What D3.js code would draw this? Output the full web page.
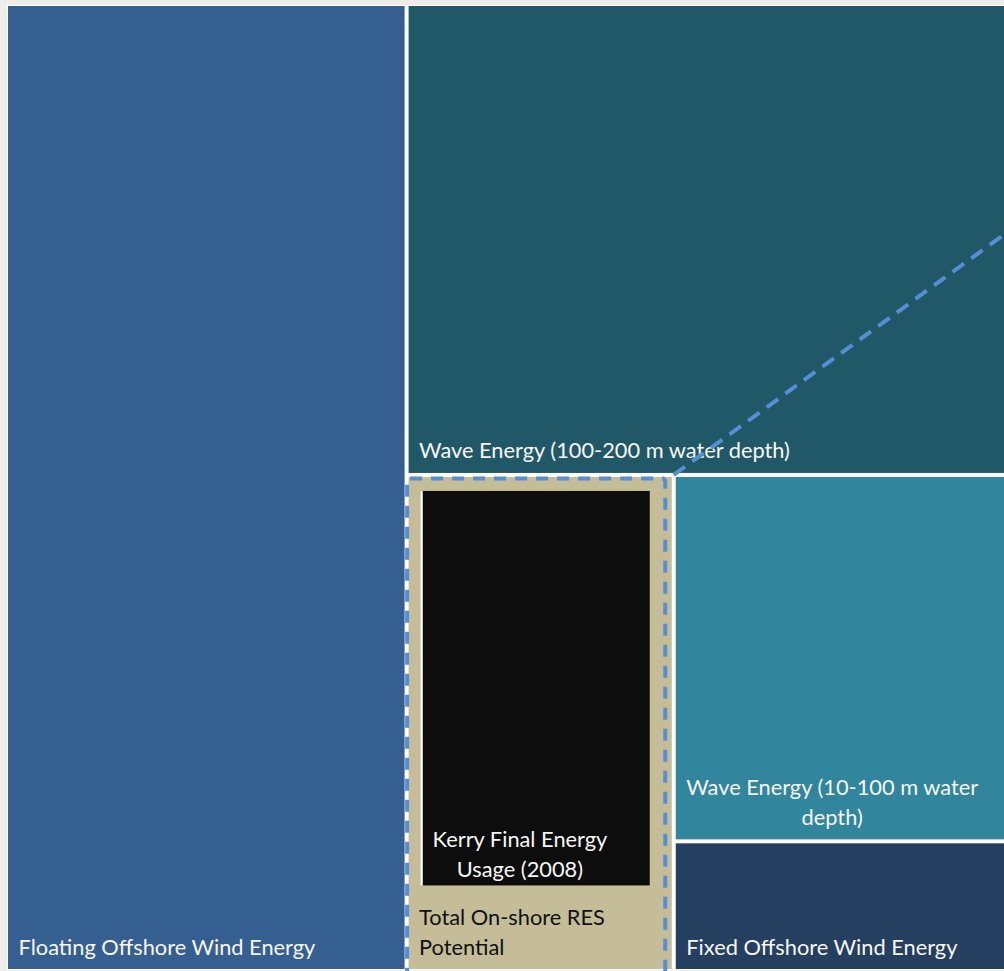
<!DOCTYPE html>
<html>
<head>
<meta charset="utf-8">
<script src="https://cdn.jsdelivr.net/npm/d3@7"></script>
<style>
  html, body { margin: 0; padding: 0; background: #efede9; }
  svg { display: block; }
</style>
</head>
<body>
<script>
// Renewable energy potential by source (same units throughout)
const categories = [
  "Floating Offshore Wind Energy",
  "Wave Energy (100-200 m water depth)",
  "Total On-shore RES Potential",
  "Wave Energy (10-100 m water depth)",
  "Fixed Offshore Wind Energy"
];
const potential = [39900, 29270, 13650, 12690, 4490];
const fillColors = ["#365f91", "#215868", "#c4bd97", "#31859c", "#243f60"];
const textColors = ["#f7f7f7", "#f7f7f7", "#111111", "#f7f7f7", "#f7f7f7"];
const labelLines = [
  ["Floating Offshore Wind Energy"],
  ["Wave Energy (100-200 m water depth)"],
  ["Total On-shore RES", "Potential"],
  ["Wave Energy (10-100 m water", "depth)"],
  ["Fixed Offshore Wind Energy"]
];
const labelAlign = ["start", "start", "start", "middle", "start"];

// County demand shown inside the on-shore block for comparison
const kerryName = "Kerry Final Energy Usage (2008)";
const kerryUsage = 9230;
const kerryLines = ["Kerry Final Energy", "Usage (2008)"];
const highlighted = "Total On-shore RES Potential";

const W = 1004, H = 971;
const origin = [8, 6];
const mapSize = [1000, 963];
const gap = 4;
const fontFamily = "Lato, 'Open Sans', sans-serif";
const fontSize = 21.8;
const lineHeight = 29.5;

const svg = d3.select("body").append("svg")
  .attr("width", W).attr("height", H);

svg.append("rect").attr("width", W).attr("height", H).attr("fill", "#efede9");
svg.append("rect")
  .attr("x", origin[0] - 1).attr("y", origin[1] - 1)
  .attr("width", mapSize[0] + 2).attr("height", mapSize[1] + 2)
  .attr("fill", "#ffffff");

const root = d3.hierarchy({
  name: "root",
  children: categories.map((c, i) => ({ name: c, value: potential[i], idx: i }))
}).sum(d => d.children ? 0 : d.value);

d3.treemap()
  .tile(d3.treemapBinary)
  .size(mapSize)
  .paddingInner(gap)
  (root);

const g = svg.append("g").attr("transform", `translate(${origin[0]},${origin[1]})`);

const leaves = root.leaves();
const cell = g.selectAll("g.cell").data(leaves).join("g").attr("class", "cell");

cell.append("rect")
  .attr("x", d => d.x0).attr("y", d => d.y0)
  .attr("width", d => d.x1 - d.x0).attr("height", d => d.y1 - d.y0)
  .attr("fill", d => fillColors[d.data.idx]);

// area per unit of value in the tiled region
const pxPerUnit = ((mapSize[0] + gap) * (mapSize[1] + gap)) / root.value;

function drawLabel(sel, lines, x0, bottom, align, color) {
  const t = sel.append("text")
    .attr("font-family", fontFamily)
    .attr("font-size", fontSize)
    .attr("fill", color);
  const spans = lines.map((line, k) => t.append("tspan")
    .attr("x", x0)
    .attr("y", bottom - (lines.length - 1 - k) * lineHeight)
    .text(line));
  if (align === "middle") {
    const widths = spans.map(s => s.node().getComputedTextLength());
    const maxW = d3.max(widths);
    spans.forEach((s, k) => s.attr("x", x0 + (maxW - widths[k]) / 2));
  }
  return t;
}

// Kerry usage block inside the on-shore cell
const onshore = leaves.find(d => d.data.name === highlighted);
const inset = { left: 14, top: 14, right: 22 };
const kW = (onshore.x1 - onshore.x0) - inset.left - inset.right;
const kH = kerryUsage * pxPerUnit / kW;
const kx = onshore.x0 + inset.left, ky = onshore.y0 + inset.top;

g.append("rect")
  .attr("x", kx).attr("y", ky).attr("width", kW).attr("height", kH)
  .attr("fill", "#0d0d0d");
g.append("line")
  .attr("x1", kx - 1).attr("x2", kx - 1)
  .attr("y1", ky).attr("y2", ky + kH)
  .attr("stroke", "#ffffff").attr("stroke-width", 2);

leaves.forEach(d => {
  const i = d.data.idx;
  drawLabel(g, labelLines[i], d.x0 + 10.5, d.y1 - 14.5, labelAlign[i], textColors[i]);
});
drawLabel(g, kerryLines, kx + 10, ky + kH - 8.5, "middle", "#f7f7f7")
  .attr("aria-label", kerryName);

// dashed highlight around the on-shore cell and a callout leader
const dashColor = "#558ed5";
g.append("rect")
  .attr("x", onshore.x0 - 1.5).attr("y", onshore.y0 + 1.5)
  .attr("width", (onshore.x1 - onshore.x0) - 5)
  .attr("height", H - origin[1] - onshore.y0 + 6)
  .attr("rx", 3)
  .attr("fill", "none")
  .attr("stroke", dashColor)
  .attr("stroke-width", 4)
  .attr("stroke-dasharray", "12 9");

const lx0 = onshore.x1 + gap / 2, ly0 = onshore.y0 - gap / 2;
const slope = -0.728;
const lx1 = W + 100;
g.append("line")
  .attr("x1", lx0).attr("y1", ly0)
  .attr("x2", lx1).attr("y2", ly0 + slope * (lx1 - lx0))
  .attr("stroke", dashColor)
  .attr("stroke-width", 4)
  .attr("stroke-dasharray", "14 9");
</script>
</body>
</html>
